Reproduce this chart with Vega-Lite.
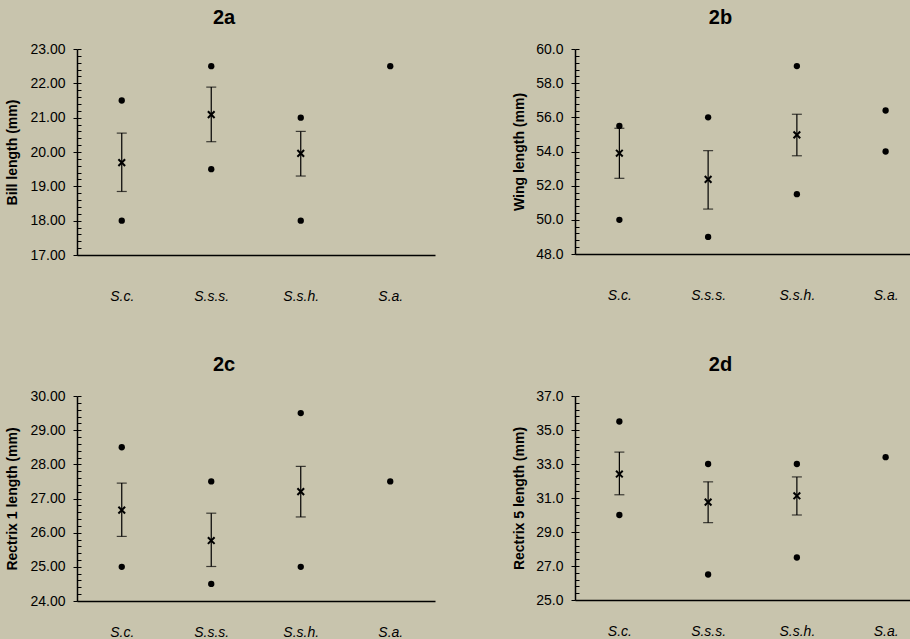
{
  "$schema": "https://vega.github.io/schema/vega-lite/v6.json",
  "background": "#c8c4ad",
  "padding": {"top": 8, "left": 5, "right": 0, "bottom": 0},
  "config": {
    "view": {"stroke": null},
    "font": "Liberation Sans",
    "axis": {"labelFont": "Liberation Sans", "titleFont": "Liberation Sans", "domainColor": "black", "tickColor": "black", "labelColor": "black", "titleColor": "black", "grid": false, "labelOverlap": false},
    "axisY": {"labelFontSize": 14, "titleFontSize": 14, "titleFontWeight": "bold", "tickCount": 100},
    "title": {"font": "Liberation Sans", "fontSize": 20, "fontWeight": "bold", "color": "black", "anchor": "middle"}
  },
  "datasets": {
    "d": [
      {"panel": "a", "sp": "S.c.", "kind": "ext", "value": 18},
      {"panel": "a", "sp": "S.c.", "kind": "ext", "value": 21.5},
      {"panel": "a", "sp": "S.s.s.", "kind": "ext", "value": 19.5},
      {"panel": "a", "sp": "S.s.s.", "kind": "ext", "value": 22.5},
      {"panel": "a", "sp": "S.s.h.", "kind": "ext", "value": 18},
      {"panel": "a", "sp": "S.s.h.", "kind": "ext", "value": 21},
      {"panel": "a", "sp": "S.a.", "kind": "ext", "value": 22.5},
      {"panel": "a", "sp": "S.c.", "kind": "stat", "mean": 19.69, "lo": 18.85, "hi": 20.55},
      {"panel": "a", "sp": "S.s.s.", "kind": "stat", "mean": 21.09, "lo": 20.3, "hi": 21.89},
      {"panel": "a", "sp": "S.s.h.", "kind": "stat", "mean": 19.96, "lo": 19.3, "hi": 20.6},
      {"panel": "b", "sp": "S.c.", "kind": "ext", "value": 50},
      {"panel": "b", "sp": "S.c.", "kind": "ext", "value": 55.5},
      {"panel": "b", "sp": "S.s.s.", "kind": "ext", "value": 49},
      {"panel": "b", "sp": "S.s.s.", "kind": "ext", "value": 56},
      {"panel": "b", "sp": "S.s.h.", "kind": "ext", "value": 51.5},
      {"panel": "b", "sp": "S.s.h.", "kind": "ext", "value": 59},
      {"panel": "b", "sp": "S.a.", "kind": "ext", "value": 54},
      {"panel": "b", "sp": "S.a.", "kind": "ext", "value": 56.4},
      {"panel": "b", "sp": "S.c.", "kind": "stat", "mean": 53.9, "lo": 52.43, "hi": 55.36},
      {"panel": "b", "sp": "S.s.s.", "kind": "stat", "mean": 52.37, "lo": 50.63, "hi": 54.05},
      {"panel": "b", "sp": "S.s.h.", "kind": "stat", "mean": 54.97, "lo": 53.75, "hi": 56.18},
      {"panel": "c", "sp": "S.c.", "kind": "ext", "value": 25},
      {"panel": "c", "sp": "S.c.", "kind": "ext", "value": 28.5},
      {"panel": "c", "sp": "S.s.s.", "kind": "ext", "value": 24.5},
      {"panel": "c", "sp": "S.s.s.", "kind": "ext", "value": 27.5},
      {"panel": "c", "sp": "S.s.h.", "kind": "ext", "value": 25},
      {"panel": "c", "sp": "S.s.h.", "kind": "ext", "value": 29.5},
      {"panel": "c", "sp": "S.a.", "kind": "ext", "value": 27.5},
      {"panel": "c", "sp": "S.c.", "kind": "stat", "mean": 26.66, "lo": 25.89, "hi": 27.45},
      {"panel": "c", "sp": "S.s.s.", "kind": "stat", "mean": 25.77, "lo": 25.01, "hi": 26.57},
      {"panel": "c", "sp": "S.s.h.", "kind": "stat", "mean": 27.2, "lo": 26.46, "hi": 27.94},
      {"panel": "d", "sp": "S.c.", "kind": "ext", "value": 30},
      {"panel": "d", "sp": "S.c.", "kind": "ext", "value": 35.5},
      {"panel": "d", "sp": "S.s.s.", "kind": "ext", "value": 26.5},
      {"panel": "d", "sp": "S.s.s.", "kind": "ext", "value": 33},
      {"panel": "d", "sp": "S.s.h.", "kind": "ext", "value": 27.5},
      {"panel": "d", "sp": "S.s.h.", "kind": "ext", "value": 33},
      {"panel": "d", "sp": "S.a.", "kind": "ext", "value": 33.4},
      {"panel": "d", "sp": "S.c.", "kind": "stat", "mean": 32.41, "lo": 31.19, "hi": 33.7},
      {"panel": "d", "sp": "S.s.s.", "kind": "stat", "mean": 30.76, "lo": 29.55, "hi": 31.95},
      {"panel": "d", "sp": "S.s.h.", "kind": "stat", "mean": 31.13, "lo": 30.0, "hi": 32.24}
    ]
  },
  "data": {"name": "d"},
  "spacing": 52,
  "vconcat": [
    {
      "spacing": 77,
      "hconcat": [
        {
          "width": 358, "height": 206,
          "title": {"text": "2a", "offset": 14, "dx": -32},
          "transform": [{"filter": "datum.panel === 'a'"}],
          "encoding": {"x": {"field": "sp", "type": "nominal", "sort": ["S.c.", "S.s.s.", "S.s.h.", "S.a."], "scale": {"type": "point", "padding": 0.5}, "axis": {"title": null, "ticks": false, "labelAngle": 0, "labelFontSize": 14, "labelFontStyle": "italic", "labelPadding": 34, "domainWidth": 1.5}}},
          "resolve": {"scale": {"y": "independent"}},
          "layer": [
            {
              "layer": [
                {"transform": [{"filter": "datum.kind === 'ext'"}], "mark": {"type": "point", "filled": true, "shape": "circle", "size": 40, "color": "black", "opacity": 1},
                 "encoding": {"y": {"field": "value", "type": "quantitative", "title": "Bill length (mm)", "scale": {"domain": [17, 23], "zero": false, "nice": false},
                   "axis": {"values": [17,18,19,20,21,22,23], "tickCount": 100, "tickSize": 4, "labelFontSize": 14, "labelOverlap": false, "labelPadding": 8, "titleFontSize": 14, "titleFontWeight": "bold", "titlePadding": 10, "domainWidth": 1.5}}}},
                {"transform": [{"filter": "datum.kind === 'stat'"}], "mark": {"type": "rule", "color": "black", "strokeWidth": 1.2},
                 "encoding": {"y": {"field": "lo", "type": "quantitative", "title": "Bill length (mm)"}, "y2": {"field": "hi"}}},
                {"transform": [{"filter": "datum.kind === 'stat'"}], "mark": {"type": "tick", "color": "black", "size": 10, "thickness": 1.2, "orient": "horizontal"},
                 "encoding": {"y": {"field": "lo", "type": "quantitative", "title": "Bill length (mm)"}}},
                {"transform": [{"filter": "datum.kind === 'stat'"}], "mark": {"type": "tick", "color": "black", "size": 10, "thickness": 1.2, "orient": "horizontal"},
                 "encoding": {"y": {"field": "hi", "type": "quantitative", "title": "Bill length (mm)"}}},
                {"transform": [{"filter": "datum.kind === 'stat'"}], "mark": {"type": "point", "shape": "M-1,-1L1,1M-1,1L1,-1", "filled": false, "size": 45, "color": "black", "strokeWidth": 2, "opacity": 1},
                 "encoding": {"y": {"field": "mean", "type": "quantitative", "title": "Bill length (mm)"}}}
              ]
            },
            {"transform": [{"filter": "datum.kind === 'ext'"}], "mark": {"type": "point", "opacity": 0},
             "encoding": {"y": {"field": "value", "type": "quantitative", "scale": {"domain": [17, 23], "zero": false, "nice": false},
               "axis": {"orient": "left", "offset": -4, "title": null, "labels": false, "domain": false, "tickCount": 100, "tickSize": 4, "tickWidth": 1, "values": [17,17.2,17.4,17.6,17.8,18,18.2,18.4,18.6,18.8,19,19.2,19.4,19.6,19.8,20,20.2,20.4,20.6,20.8,21,21.2,21.4,21.6,21.8,22,22.2,22.4,22.6,22.8,23]}}}}
          ]
        },
        {
          "width": 355, "height": 205,
          "title": {"text": "2b", "offset": 14, "dx": -32},
          "transform": [{"filter": "datum.panel === 'b'"}],
          "encoding": {"x": {"field": "sp", "type": "nominal", "sort": ["S.c.", "S.s.s.", "S.s.h.", "S.a."], "scale": {"type": "point", "padding": 0.5}, "axis": {"title": null, "ticks": false, "labelAngle": 0, "labelFontSize": 14, "labelFontStyle": "italic", "labelPadding": 34, "domainWidth": 1.5}}},
          "resolve": {"scale": {"y": "independent"}},
          "layer": [
            {
              "layer": [
                {"transform": [{"filter": "datum.kind === 'ext'"}], "mark": {"type": "point", "filled": true, "shape": "circle", "size": 40, "color": "black", "opacity": 1},
                 "encoding": {"y": {"field": "value", "type": "quantitative", "title": "Wing length (mm)", "scale": {"domain": [48, 60], "zero": false, "nice": false},
                   "axis": {"values": [48,50,52,54,56,58,60], "tickCount": 100, "tickSize": 4, "labelFontSize": 14, "labelOverlap": false, "labelPadding": 8, "titleFontSize": 14, "titleFontWeight": "bold", "titlePadding": 9, "domainWidth": 1.5}}}},
                {"transform": [{"filter": "datum.kind === 'stat'"}], "mark": {"type": "rule", "color": "black", "strokeWidth": 1.2},
                 "encoding": {"y": {"field": "lo", "type": "quantitative", "title": "Wing length (mm)"}, "y2": {"field": "hi"}}},
                {"transform": [{"filter": "datum.kind === 'stat'"}], "mark": {"type": "tick", "color": "black", "size": 10, "thickness": 1.2, "orient": "horizontal"},
                 "encoding": {"y": {"field": "lo", "type": "quantitative", "title": "Wing length (mm)"}}},
                {"transform": [{"filter": "datum.kind === 'stat'"}], "mark": {"type": "tick", "color": "black", "size": 10, "thickness": 1.2, "orient": "horizontal"},
                 "encoding": {"y": {"field": "hi", "type": "quantitative", "title": "Wing length (mm)"}}},
                {"transform": [{"filter": "datum.kind === 'stat'"}], "mark": {"type": "point", "shape": "M-1,-1L1,1M-1,1L1,-1", "filled": false, "size": 45, "color": "black", "strokeWidth": 2, "opacity": 1},
                 "encoding": {"y": {"field": "mean", "type": "quantitative", "title": "Wing length (mm)"}}}
              ]
            },
            {"transform": [{"filter": "datum.kind === 'ext'"}], "mark": {"type": "point", "opacity": 0},
             "encoding": {"y": {"field": "value", "type": "quantitative", "scale": {"domain": [48, 60], "zero": false, "nice": false},
               "axis": {"orient": "left", "offset": -4, "title": null, "labels": false, "domain": false, "tickCount": 100, "tickSize": 4, "tickWidth": 1, "values": [48,48.4,48.8,49.2,49.6,50,50.4,50.8,51.2,51.6,52,52.4,52.8,53.2,53.6,54,54.4,54.8,55.2,55.6,56,56.4,56.8,57.2,57.6,58,58.4,58.8,59.2,59.6,60]}}}}
          ]
        }
      ]
    },
    {
      "spacing": 77,
      "hconcat": [
        {
          "width": 358, "height": 205,
          "title": {"text": "2c", "offset": 14, "dx": -32},
          "transform": [{"filter": "datum.panel === 'c'"}],
          "encoding": {"x": {"field": "sp", "type": "nominal", "sort": ["S.c.", "S.s.s.", "S.s.h.", "S.a."], "scale": {"type": "point", "padding": 0.5}, "axis": {"title": null, "ticks": false, "labelAngle": 0, "labelFontSize": 14, "labelFontStyle": "italic", "labelPadding": 24, "domainWidth": 1.5}}},
          "resolve": {"scale": {"y": "independent"}},
          "layer": [
            {
              "layer": [
                {"transform": [{"filter": "datum.kind === 'ext'"}], "mark": {"type": "point", "filled": true, "shape": "circle", "size": 40, "color": "black", "opacity": 1},
                 "encoding": {"y": {"field": "value", "type": "quantitative", "title": "Rectrix 1 length (mm)", "scale": {"domain": [24, 30], "zero": false, "nice": false},
                   "axis": {"values": [24,25,26,27,28,29,30], "tickCount": 100, "tickSize": 4, "labelFontSize": 14, "labelOverlap": false, "labelPadding": 8, "titleFontSize": 14, "titleFontWeight": "bold", "titlePadding": 10, "domainWidth": 1.5}}}},
                {"transform": [{"filter": "datum.kind === 'stat'"}], "mark": {"type": "rule", "color": "black", "strokeWidth": 1.2},
                 "encoding": {"y": {"field": "lo", "type": "quantitative", "title": "Rectrix 1 length (mm)"}, "y2": {"field": "hi"}}},
                {"transform": [{"filter": "datum.kind === 'stat'"}], "mark": {"type": "tick", "color": "black", "size": 10, "thickness": 1.2, "orient": "horizontal"},
                 "encoding": {"y": {"field": "lo", "type": "quantitative", "title": "Rectrix 1 length (mm)"}}},
                {"transform": [{"filter": "datum.kind === 'stat'"}], "mark": {"type": "tick", "color": "black", "size": 10, "thickness": 1.2, "orient": "horizontal"},
                 "encoding": {"y": {"field": "hi", "type": "quantitative", "title": "Rectrix 1 length (mm)"}}},
                {"transform": [{"filter": "datum.kind === 'stat'"}], "mark": {"type": "point", "shape": "M-1,-1L1,1M-1,1L1,-1", "filled": false, "size": 45, "color": "black", "strokeWidth": 2, "opacity": 1},
                 "encoding": {"y": {"field": "mean", "type": "quantitative", "title": "Rectrix 1 length (mm)"}}}
              ]
            },
            {"transform": [{"filter": "datum.kind === 'ext'"}], "mark": {"type": "point", "opacity": 0},
             "encoding": {"y": {"field": "value", "type": "quantitative", "scale": {"domain": [24, 30], "zero": false, "nice": false},
               "axis": {"orient": "left", "offset": -4, "title": null, "labels": false, "domain": false, "tickCount": 100, "tickSize": 4, "tickWidth": 1, "values": [24,24.2,24.4,24.6,24.8,25,25.2,25.4,25.6,25.8,26,26.2,26.4,26.6,26.8,27,27.2,27.4,27.6,27.8,28,28.2,28.4,28.6,28.8,29,29.2,29.4,29.6,29.8,30]}}}}
          ]
        },
        {
          "width": 355, "height": 204,
          "title": {"text": "2d", "offset": 14, "dx": -32},
          "transform": [{"filter": "datum.panel === 'd'"}],
          "encoding": {"x": {"field": "sp", "type": "nominal", "sort": ["S.c.", "S.s.s.", "S.s.h.", "S.a."], "scale": {"type": "point", "padding": 0.5}, "axis": {"title": null, "ticks": false, "labelAngle": 0, "labelFontSize": 14, "labelFontStyle": "italic", "labelPadding": 24, "domainWidth": 1.5}}},
          "resolve": {"scale": {"y": "independent"}},
          "layer": [
            {
              "layer": [
                {"transform": [{"filter": "datum.kind === 'ext'"}], "mark": {"type": "point", "filled": true, "shape": "circle", "size": 40, "color": "black", "opacity": 1},
                 "encoding": {"y": {"field": "value", "type": "quantitative", "title": "Rectrix 5 length (mm)", "scale": {"domain": [25, 37], "zero": false, "nice": false},
                   "axis": {"values": [25,27,29,31,33,35,37], "tickCount": 100, "tickSize": 4, "labelFontSize": 14, "labelOverlap": false, "labelPadding": 8, "titleFontSize": 14, "titleFontWeight": "bold", "titlePadding": 9, "domainWidth": 1.5}}}},
                {"transform": [{"filter": "datum.kind === 'stat'"}], "mark": {"type": "rule", "color": "black", "strokeWidth": 1.2},
                 "encoding": {"y": {"field": "lo", "type": "quantitative", "title": "Rectrix 5 length (mm)"}, "y2": {"field": "hi"}}},
                {"transform": [{"filter": "datum.kind === 'stat'"}], "mark": {"type": "tick", "color": "black", "size": 10, "thickness": 1.2, "orient": "horizontal"},
                 "encoding": {"y": {"field": "lo", "type": "quantitative", "title": "Rectrix 5 length (mm)"}}},
                {"transform": [{"filter": "datum.kind === 'stat'"}], "mark": {"type": "tick", "color": "black", "size": 10, "thickness": 1.2, "orient": "horizontal"},
                 "encoding": {"y": {"field": "hi", "type": "quantitative", "title": "Rectrix 5 length (mm)"}}},
                {"transform": [{"filter": "datum.kind === 'stat'"}], "mark": {"type": "point", "shape": "M-1,-1L1,1M-1,1L1,-1", "filled": false, "size": 45, "color": "black", "strokeWidth": 2, "opacity": 1},
                 "encoding": {"y": {"field": "mean", "type": "quantitative", "title": "Rectrix 5 length (mm)"}}}
              ]
            },
            {"transform": [{"filter": "datum.kind === 'ext'"}], "mark": {"type": "point", "opacity": 0},
             "encoding": {"y": {"field": "value", "type": "quantitative", "scale": {"domain": [25, 37], "zero": false, "nice": false},
               "axis": {"orient": "left", "offset": -4, "title": null, "labels": false, "domain": false, "tickCount": 100, "tickSize": 4, "tickWidth": 1, "values": [25,25.4,25.8,26.2,26.6,27,27.4,27.8,28.2,28.6,29,29.4,29.8,30.2,30.6,31,31.4,31.8,32.2,32.6,33,33.4,33.8,34.2,34.6,35,35.4,35.8,36.2,36.6,37]}}}}
          ]
        }
      ]
    }
  ]
}
